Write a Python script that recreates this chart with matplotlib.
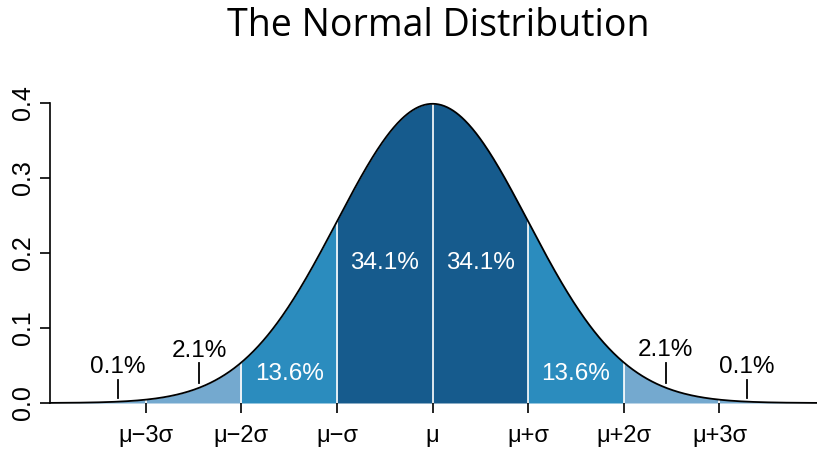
import numpy as np
import matplotlib.pyplot as plt

# parametros da distribuicao
mu = 0.0
sigma = 1.0

# limites das faixas (em sigmas) e cores de cada faixa
faixas = [-4, -3, -2, -1, 0, 1, 2, 3, 4]
cores = ['#74a9cf', '#74a9cf', '#2b8cbe', '#165b8d', '#165b8d', '#2b8cbe', '#74a9cf', '#74a9cf']

# rotulos do eixo x
pos_x = [-3, -2, -1, 0, 1, 2, 3]
rotulos_x = ['μ−3σ', 'μ−2σ', 'μ−σ', 'μ', 'μ+σ', 'μ+2σ', 'μ+3σ']

# percentuais dentro da curva (brancos)
pct_dentro = ['13.6%', '34.1%', '34.1%', '13.6%']
pct_dentro_x = [-1.5, -0.5, 0.5, 1.5]
pct_dentro_y = [0.039, 0.187, 0.187, 0.039]

# percentuais fora da curva (pretos, com tracinho)
pct_fora = ['0.1%', '2.1%', '2.1%', '0.1%']
pct_fora_x = [-3.29, -2.44, 2.44, 3.29]
pct_fora_y = [0.048, 0.069, 0.070, 0.048]
traco_ini = [0.007, 0.027, 0.027, 0.007]
traco_fim = [0.031, 0.053, 0.053, 0.031]

plt.rcParams['font.family'] = ['Liberation Sans', 'DejaVu Sans']

def densidade(x):
    return np.exp(-0.5 * ((x - mu) / sigma) ** 2) / (sigma * np.sqrt(2 * np.pi))

fig = plt.figure(figsize=(8.17, 4.55), dpi=100)
ax = fig.add_axes([50 / 817, 52 / 455, 767 / 817, 300 / 455])

# preenche as faixas
for i in range(len(cores)):
    xs = np.linspace(faixas[i], faixas[i + 1], 200)
    ax.fill_between(xs, 0, densidade(xs), color=cores[i], linewidth=0)

# linhas brancas entre as faixas
for b in faixas[1:-1]:
    ax.plot([b, b], [0, densidade(b)], color='white', linewidth=1.2)

# curva
xc = np.linspace(-4, 4.02, 800)
ax.plot(xc, densidade(xc), color='black', linewidth=1.3, clip_on=False)

for t, x, y in zip(pct_dentro, pct_dentro_x, pct_dentro_y):
    ax.text(x, y, t, color='white', fontsize=17.5, ha='center', va='center')

for t, x, y, y0, y1 in zip(pct_fora, pct_fora_x, pct_fora_y, traco_ini, traco_fim):
    ax.text(x, y, t, color='black', fontsize=17.5, ha='center', va='center')
    ax.plot([x, x], [y0, y1], color='black', linewidth=1.3)

ax.set_xlim(-4, 4.02)
ax.set_ylim(0, 0.4)
ax.set_xticks(pos_x)
ax.set_xticklabels(rotulos_x, fontsize=17)
ax.set_yticks([0.0, 0.1, 0.2, 0.3, 0.4])
ax.set_yticklabels(['0.0', '0.1', '0.2', '0.3', '0.4'], fontsize=18, rotation=90, va='center')
ax.tick_params(axis='both', length=7, width=1.2)
ax.tick_params(axis='x', pad=9)
ax.tick_params(axis='y', pad=4)
for lado in ['top', 'right', 'bottom']:
    ax.spines[lado].set_visible(False)
ax.spines['left'].set_linewidth(1.2)

fig.text(0.536, 1 - 36 / 455, 'The Normal Distribution', fontsize=27,
         ha='center', va='baseline', family='Open Sans')

plt.savefig('out.png', dpi=100)
